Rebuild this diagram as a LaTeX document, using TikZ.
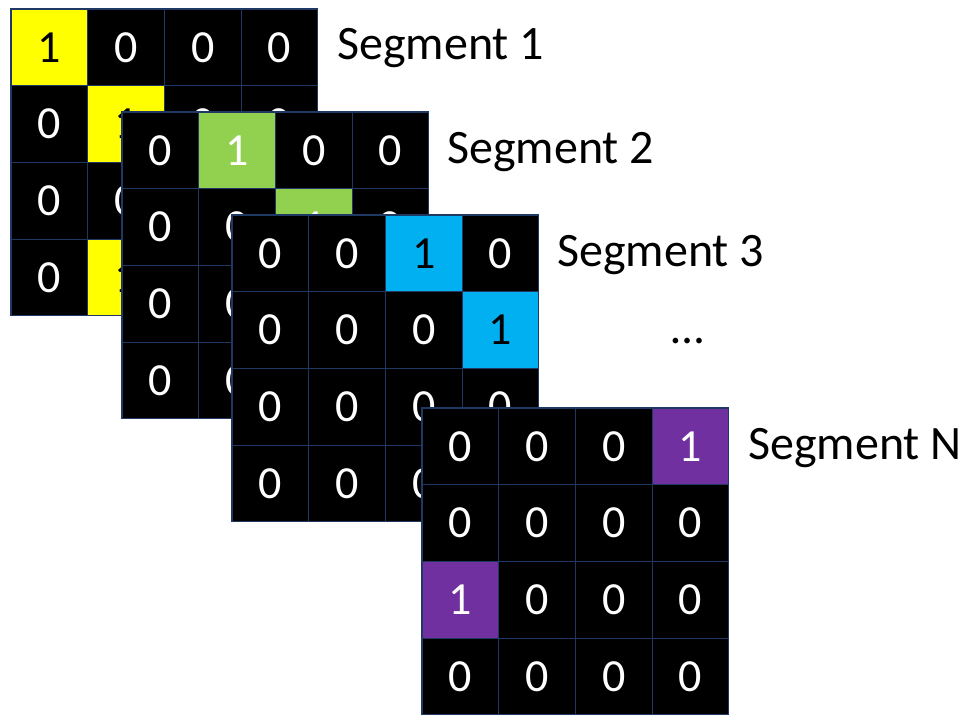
\documentclass[tikz,border=0pt]{standalone}
\usepackage{fontspec}
\setmainfont{Carlito}

\definecolor{cellline}{HTML}{1F3864}
\definecolor{segyellow}{HTML}{FFFF00}
\definecolor{seggreen}{HTML}{92D050}
\definecolor{segblue}{HTML}{00B0F0}
\definecolor{segpurple}{HTML}{7030A0}

\tikzset{
  cell/.style={draw=cellline, line width=1.2pt, minimum size=76.7pt,
    inner sep=0pt, font=\fontsize{46}{56}\selectfont},
  zero/.style={cell, fill=black, text=white},
  oneY/.style={cell, fill=segyellow, text=black},
  oneG/.style={cell, fill=seggreen, text=white},
  oneB/.style={cell, fill=segblue, text=black},
  oneP/.style={cell, fill=segpurple, text=white},
  seglabel/.style={anchor=base west, inner sep=0pt, text=black,
    font=\fontsize{48}{58}\selectfont},
}

% #1 name, #2 left x, #3 top y, #4 list of style/digit for the 16 cells
\newcommand\segmentgrid[4]{%
  \foreach \st/\dg [count=\i from 0] in {#4} {
    \pgfmathtruncatemacro\rr{int(\i/4)}
    \pgfmathtruncatemacro\cc{mod(\i,4)}
    \node[\st] (#1-\rr-\cc) at ({#2+(\cc+0.5)*76.7},{#3+(\rr+0.5)*76.7}) {\raisebox{-1.5pt}{\dg}};
  }%
}

\begin{document}
\begin{tikzpicture}[x=1pt,y=-1pt]
  \useasboundingbox (0,0) rectangle (966,715);

  % Segment 1
  \segmentgrid{sa}{11}{9}{oneY/1,zero/0,zero/0,zero/0,
    zero/0,oneY/1,zero/0,zero/0,
    zero/0,zero/0,zero/0,zero/0,
    zero/0,oneY/1,zero/0,zero/0}
  % Segment 2
  \segmentgrid{sb}{122}{112}{zero/0,oneG/1,zero/0,zero/0,
    zero/0,zero/0,oneG/1,zero/0,
    zero/0,zero/0,zero/0,zero/0,
    zero/0,zero/0,zero/0,zero/0}
  % Segment 3
  \segmentgrid{sc}{232}{215}{zero/0,zero/0,oneB/1,zero/0,
    zero/0,zero/0,zero/0,oneB/1,
    zero/0,zero/0,zero/0,zero/0,
    zero/0,zero/0,zero/0,zero/0}
  % Segment N
  \segmentgrid{sn}{422}{408}{zero/0,zero/0,zero/0,oneP/1,
    zero/0,zero/0,zero/0,zero/0,
    oneP/1,zero/0,zero/0,zero/0,
    zero/0,zero/0,zero/0,zero/0}

  % Labels
  \node[seglabel] (laba) at (337,59) {Segment 1};
  \node[seglabel] (labb) at (447,163) {Segment 2};
  \node[seglabel] (labc) at (557,266) {Segment 3};
  \node[anchor=center, inner sep=0pt, font=\fontsize{47}{56}\selectfont] (dots) at (688,341) {\ldots};
  \node[seglabel] (labn) at (748,459) {Segment N};
\end{tikzpicture}
\end{document}
